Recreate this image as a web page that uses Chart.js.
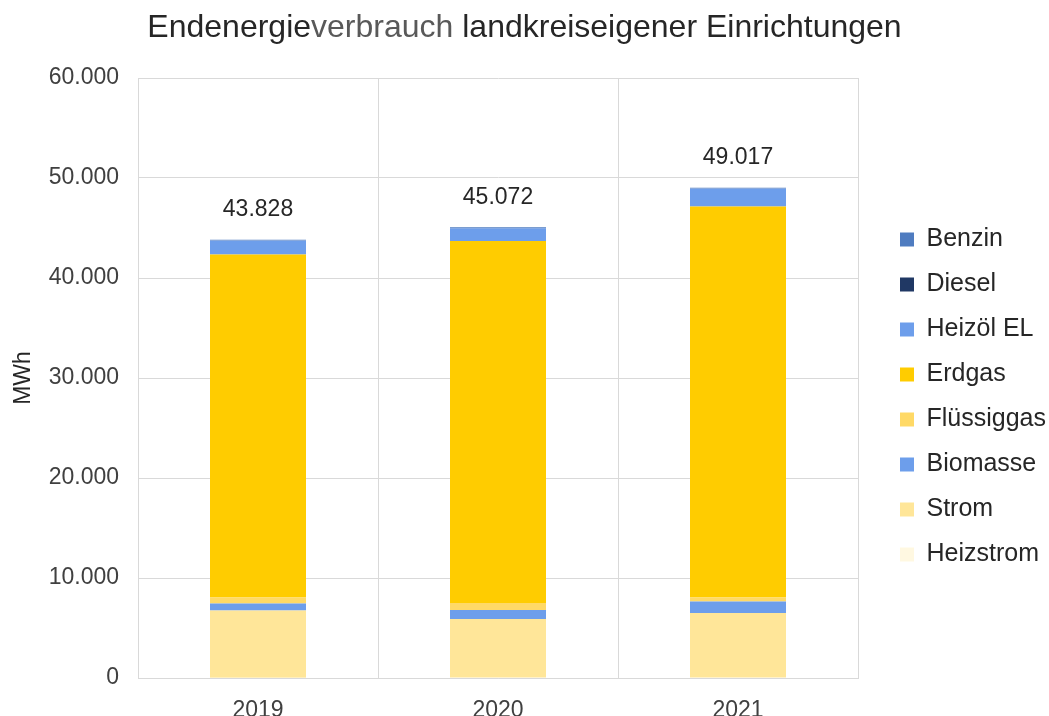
<!DOCTYPE html>
<html><head><meta charset="utf-8">
<script src="https://cdn.jsdelivr.net/npm/chart.js@4"></script>
<style>html,body{margin:0;padding:0;background:#fff}#wrap{width:1049px;height:716px}</style>
</head><body><div id="wrap"><canvas id="c" width="1049" height="716"></canvas></div>
<script>
const categories = ["2019", "2020", "2021"];
const heizstrom  = [30, 0, 0];
const strom      = [6720, 5900, 6500];
const biomasse   = [700, 900, 1150];
const fluessiggas= [600, 700, 400];
const erdgas     = [34300, 36200, 39100];
const heizoelEL  = [1400, 1272, 1790];
const diesel     = [28, 30, 27];
const benzin     = [50, 70, 50];
const yTicks = [0, 10000, 20000, 30000, 40000, 50000, 60000];
const titleParts = [["Endenergie", "#262626"], ["verbrauch", "#595959"], [" landkreiseigener Einrichtungen", "#262626"]];

const FONT = "'Liberation Sans', Arial, sans-serif";
const fmt = v => v.toLocaleString('de-DE');

const seriesDefs = [
  ["Heizstrom", heizstrom, "#FFF8E1"],
  ["Strom", strom, "#FFE699"],
  ["Biomasse", biomasse, "#6D9EEB"],
  ["Flüssiggas", fluessiggas, "#FFD966"],
  ["Erdgas", erdgas, "#FFCC00"],
  ["Heizöl EL", heizoelEL, "#6D9EEB"],
  ["Diesel", diesel, "#203864"],
  ["Benzin", benzin, "#4F7CC0"]
];

const datasets = seriesDefs.map(([label, data, color]) => ({
  label, data, backgroundColor: color, borderWidth: 0,
  categoryPercentage: 1.0, barPercentage: 0.4
}));

const totals = categories.map((_, i) => seriesDefs.reduce((s, d) => s + d[1][i], 0));

const LEGEND_W = 191, LEGEND_SHIFT = 22;

const extras = {
  id: 'extras',
  afterInit(chart) {
    const lg = chart.legend;
    if (lg) {
      const orig = lg.fit.bind(lg);
      lg.fit = function () { orig(); this.width = LEGEND_W; };
    }
  },
  afterLayout(chart) {
    const lg = chart.legend;
    if (lg) { lg.left = chart.chartArea.right + LEGEND_SHIFT; }
  },
  afterDatasetsDraw(chart) {
    const ctx = chart.ctx;
    const x = chart.scales.x, y = chart.scales.y;
    ctx.save();
    ctx.font = "23px " + FONT;
    ctx.fillStyle = "#262626";
    ctx.textAlign = "center";
    ctx.textBaseline = "middle";
    totals.forEach((t, i) => {
      ctx.fillText(fmt(t), x.getPixelForValue(i), y.getPixelForValue(t) - 30);
    });
    ctx.restore();
  },
  afterDraw(chart) {
    const ctx = chart.ctx;
    ctx.save();
    ctx.font = "32px " + FONT;
    ctx.textBaseline = "middle";
    ctx.textAlign = "left";
    const total = titleParts.reduce((s, p) => s + ctx.measureText(p[0]).width, 0);
    let xx = chart.width / 2 - total / 2;
    titleParts.forEach(([txt, col]) => {
      ctx.fillStyle = col;
      ctx.fillText(txt, xx, 28);
      xx += ctx.measureText(txt).width;
    });
    ctx.restore();
  }
};

new Chart(document.getElementById('c'), {
  type: 'bar',
  data: { labels: categories, datasets },
  options: {
    responsive: false,
    animation: false,
    layout: { padding: { top: 78, left: 0, right: 0, bottom: 0 } },
    plugins: {
      title: { display: false },
      tooltip: { enabled: false },
      legend: {
        position: 'right',
        reverse: true,
        labels: {
          font: { size: 25, family: FONT },
          color: "#262626",
          boxWidth: 14, boxHeight: 14,
          padding: 20
        }
      }
    },
    scales: {
      x: {
        stacked: true,
        grid: { color: "#D9D9D9", drawTicks: false, offset: true },
        border: { color: "#D9D9D9" },
        ticks: { font: { size: 23, family: FONT }, color: "#404040", padding: 19 },
        afterFit(s) { s.height = 38; }
      },
      y: {
        stacked: true,
        min: 0, max: 60000,
        afterBuildTicks(s) { s.ticks = yTicks.map(v => ({ value: v })); },
        grid: { color: "#D9D9D9", drawTicks: false },
        border: { color: "#D9D9D9" },
        ticks: { font: { size: 23, family: FONT }, color: "#404040", padding: 19, callback: v => fmt(v) },
        title: { display: true, text: "MWh", font: { size: 23, family: FONT }, color: "#262626", padding: { top: 10, bottom: 0 } },
        afterFit(s) { s.width = 138; }
      }
    }
  },
  plugins: [extras]
});
</script></body></html>
